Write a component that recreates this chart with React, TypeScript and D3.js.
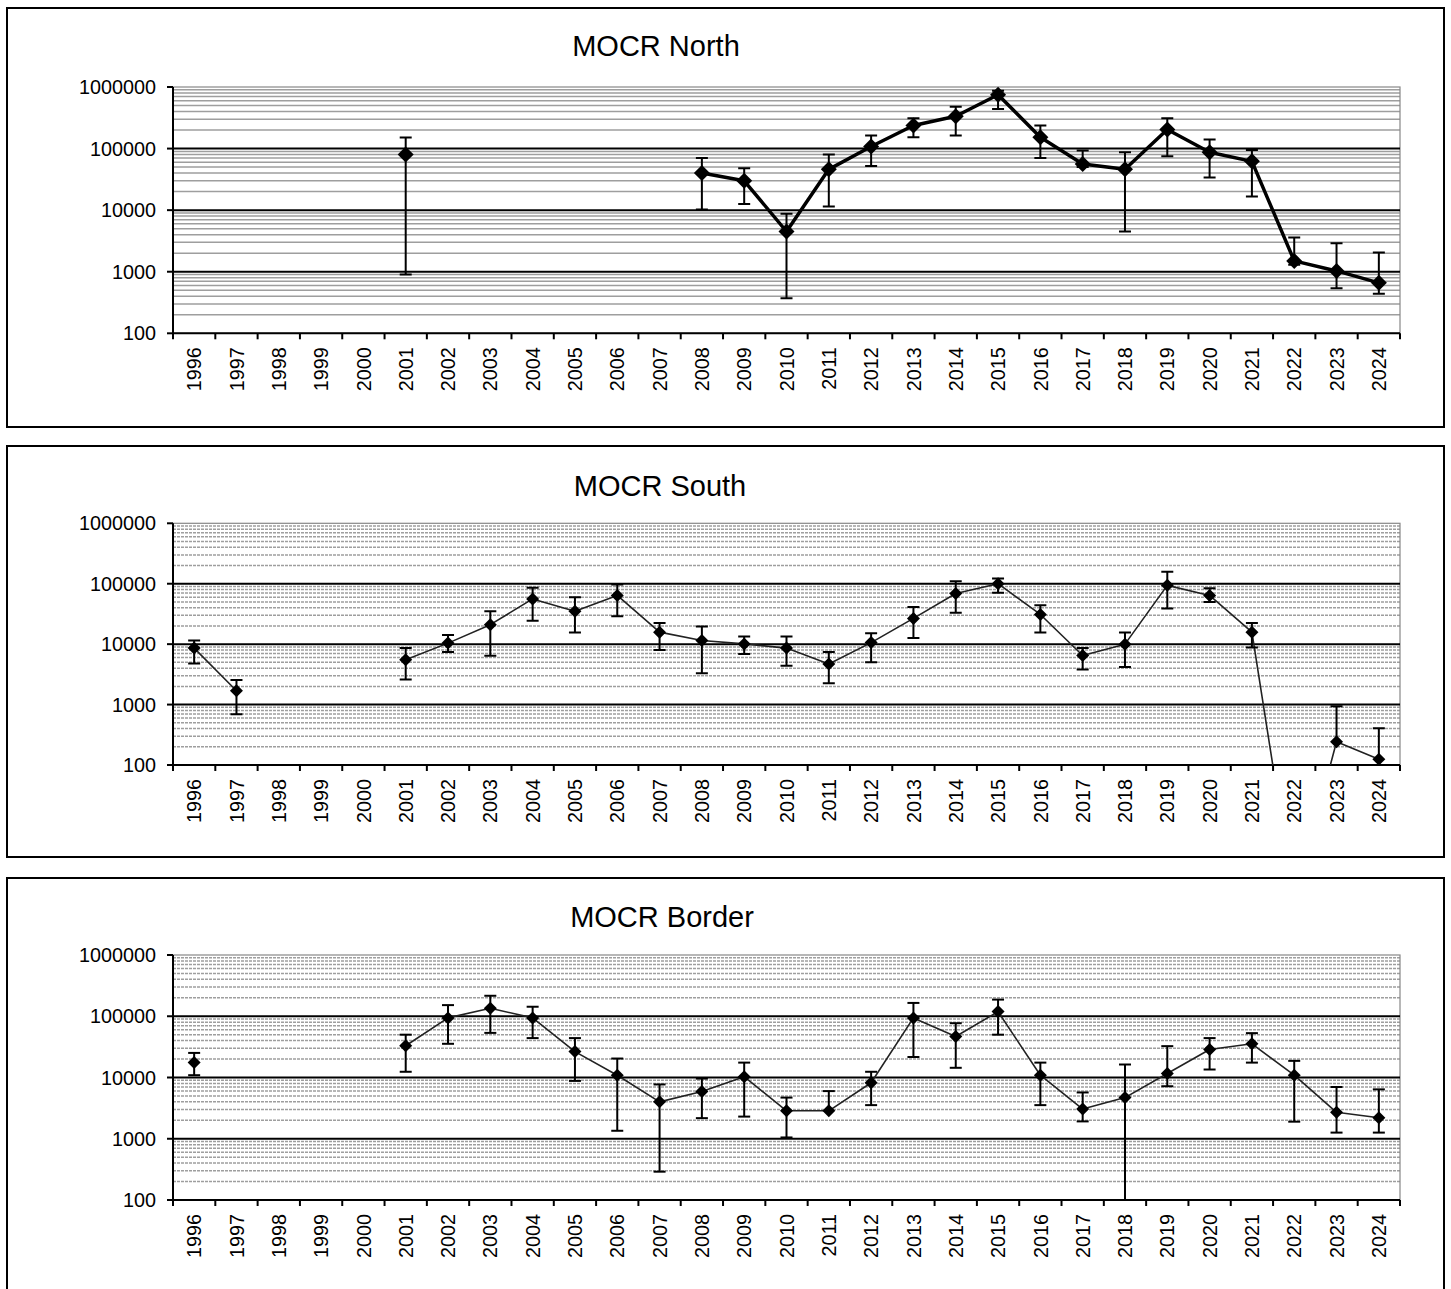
import React from "react";
import * as d3 from "d3";

const years = ["1996","1997","1998","1999","2000","2001","2002","2003","2004","2005","2006","2007","2008","2009","2010","2011","2012","2013","2014","2015","2016","2017","2018","2019","2020","2021","2022","2023","2024"];
const yTicks = [100, 1000, 10000, 100000, 1000000];

const titles = ["MOCR North", "MOCR South", "MOCR Border"];

const north = [null,null,null,null,null,80000,null,null,null,null,null,null,40000,30000,4500,46000,108000,237000,335000,750000,153000,56000,46000,204000,87000,62000,1500,1030,660];
const northHigh = [null,null,null,null,null,152000,null,null,null,null,null,null,70000,48000,8700,80000,163000,310000,480000,870000,237000,93000,87000,310000,140000,95000,3600,2900,2050];
const northLow = [null,null,null,null,null,900,null,null,null,null,null,null,10200,12600,370,11500,52000,153000,163000,440000,70000,50000,4500,75000,34000,16700,1300,540,440];

const south = [8600,1690,null,null,null,5500,10400,21000,56000,35000,64000,15800,11500,10100,8600,4700,10600,26700,69000,100000,31000,6500,10000,94000,64000,15800,0.55,243,125];
const southHigh = [11500,2560,null,null,null,8600,14200,35000,86000,60000,97000,22300,19600,13400,13400,7400,15200,41000,110000,122000,44000,8600,15600,158000,84000,22300,null,940,405];
const southLow = [4800,690,null,null,null,2600,7400,6400,24300,15600,29000,8000,3300,6900,4400,2250,5000,12600,33000,71000,15600,3800,4200,39000,50000,8800,null,null,null];

const border = [17500,null,null,null,null,33000,94000,135000,94000,26500,10900,4000,5900,10300,2860,2860,8200,94000,46600,119000,10900,3050,4700,11600,28600,35500,10900,2700,2200];
const borderHigh = [25200,null,null,null,null,50000,152000,216000,143000,44000,20400,7700,9600,17500,4700,6000,12400,165000,77000,187000,17500,5700,16300,32500,44000,53000,18700,7000,6400];
const borderLow = [10900,null,null,null,null,12400,35500,53500,44000,8800,1350,290,2170,2300,1050,null,3540,21600,14400,50000,3540,1920,50,7200,13500,17500,1900,1260,1260];

const seriesValues = [north, south, border];
const seriesHigh = [northHigh, southHigh, borderHigh];
const seriesLow = [northLow, southLow, borderLow];

// layout (not data)
const panels = [
  { boxTop: 8, boxBottom: 427, plotTop: 87, plotBottom: 333.3, titleY: 56, titleX: 656, lineW: 3.5, lineColor: "#000", r: 8, dashed: false },
  { boxTop: 446, boxBottom: 857, plotTop: 523.3, plotBottom: 765, titleY: 496, titleX: 660, lineW: 1.6, lineColor: "#222", r: 6.5, dashed: true },
  { boxTop: 878, boxBottom: 1300, plotTop: 955, plotBottom: 1200, titleY: 927, titleX: 662, lineW: 1.6, lineColor: "#222", r: 6.5, dashed: true },
];
const plotLeft = 173;
const plotRight = 1400;
const FONT = "'Liberation Sans', Arial, Helvetica, sans-serif";

function Panel({ idx }: { idx: number }) {
  const p = panels[idx];
  const vals = seriesValues[idx];
  const hi = seriesHigh[idx];
  const lo = seriesLow[idx];
  const x = d3.scaleBand().domain(years).range([plotLeft, plotRight]).paddingInner(0).paddingOuter(0);
  const y = d3.scaleLog().domain([100, 1000000]).range([p.plotBottom, p.plotTop]);
  const cx = (i: number) => (x(years[i]) as number) + x.bandwidth() / 2;

  const minor: number[] = [];
  for (let dec = 100; dec < 1000000; dec *= 10) {
    for (let m = 2; m <= 9; m++) minor.push(dec * m);
  }
  const pts = vals.map((v, i) => ({ i, v }));
  const line = d3
    .line<{ i: number; v: number | null }>()
    .defined((d) => d.v != null)
    .x((d) => cx(d.i))
    .y((d) => y(d.v as number));
  const clipId = `clip${idx}`;
  const capW = 6;
  const boundaries = d3.range(years.length + 1).map((k) => plotLeft + k * x.bandwidth());

  return (
    <g>
      <rect x={7} y={p.boxTop} width={1437} height={p.boxBottom - p.boxTop} fill="#fff" stroke="#000" strokeWidth={2} />
      <text x={p.titleX} y={p.titleY} textAnchor="middle" fontFamily={FONT} fontSize={29} fill="#000">
        {titles[idx]}
      </text>
      <defs>
        <clipPath id={clipId}>
          <rect x={plotLeft} y={p.plotTop} width={plotRight - plotLeft} height={p.plotBottom - p.plotTop} />
        </clipPath>
      </defs>
      {minor.map((m) => (
        <line key={m} x1={plotLeft} x2={plotRight} y1={y(m)} y2={y(m)} stroke="#9e9e9e" strokeWidth={1.5}
          strokeDasharray={p.dashed ? "3,1" : undefined} />
      ))}
      <rect x={plotLeft} y={p.plotTop} width={plotRight - plotLeft} height={p.plotBottom - p.plotTop} fill="none" stroke="#888" strokeWidth={1.2} />
      {yTicks.slice(1, -1).map((t) => (
        <line key={t} x1={plotLeft} x2={plotRight} y1={y(t)} y2={y(t)} stroke="#000" strokeWidth={2} />
      ))}
      <line x1={plotLeft} x2={plotLeft} y1={p.plotTop} y2={p.plotBottom + 5} stroke="#000" strokeWidth={2} />
      <line x1={plotLeft} x2={plotRight} y1={p.plotBottom} y2={p.plotBottom} stroke="#000" strokeWidth={2} />
      {yTicks.map((t) => (
        <g key={t}>
          <line x1={plotLeft - 6} x2={plotLeft} y1={y(t)} y2={y(t)} stroke="#000" strokeWidth={2} />
          <text x={156} y={y(t)} dy="0.36em" textAnchor="end" fontFamily={FONT} fontSize={19.8} fill="#000">
            {String(t)}
          </text>
        </g>
      ))}
      {boundaries.map((bx, k) => (
        <line key={k} x1={bx} x2={bx} y1={p.plotBottom} y2={p.plotBottom + 6} stroke="#000" strokeWidth={2} />
      ))}
      {years.map((yr, i) => (
        <text key={yr} transform={`translate(${cx(i)},${p.plotBottom + 14}) rotate(-90)`} dy="0.36em" textAnchor="end"
          fontFamily={FONT} fontSize={19.8} fill="#000">
          {yr}
        </text>
      ))}
      <g clipPath={`url(#${clipId})`}>
        <path d={line(pts) || ""} fill="none" stroke={p.lineColor} strokeWidth={p.lineW} strokeLinejoin="round" />
        {vals.map((v, i) => {
          if (v == null) return null;
          const h = hi[i];
          const l = lo[i];
          const X = cx(i);
          return (
            <g key={i} stroke="#000" strokeWidth={2}>
              {h != null && (
                <>
                  <line x1={X} x2={X} y1={y(v)} y2={y(h)} />
                  <line x1={X - capW} x2={X + capW} y1={y(h)} y2={y(h)} />
                </>
              )}
              {l != null && (
                <>
                  <line x1={X} x2={X} y1={y(v)} y2={y(l)} />
                  <line x1={X - capW} x2={X + capW} y1={y(l)} y2={y(l)} />
                </>
              )}
            </g>
          );
        })}
      </g>
      {vals.map((v, i) => {
        if (v == null || v < 100) return null;
        const X = cx(i);
        const Y = y(v);
        const r = p.r;
        return <path key={i} d={`M${X},${Y - r}L${X + r},${Y}L${X},${Y + r}L${X - r},${Y}Z`} fill="#000" />;
      })}
    </g>
  );
}

export default function App() {
  return (
    <svg width={1451} height={1289} style={{ position: "absolute", left: 0, top: 0, display: "block" }}>
      <rect x={0} y={0} width={1451} height={1289} fill="#fff" />
      {[0, 1, 2].map((i) => (
        <Panel key={i} idx={i} />
      ))}
    </svg>
  );
}
